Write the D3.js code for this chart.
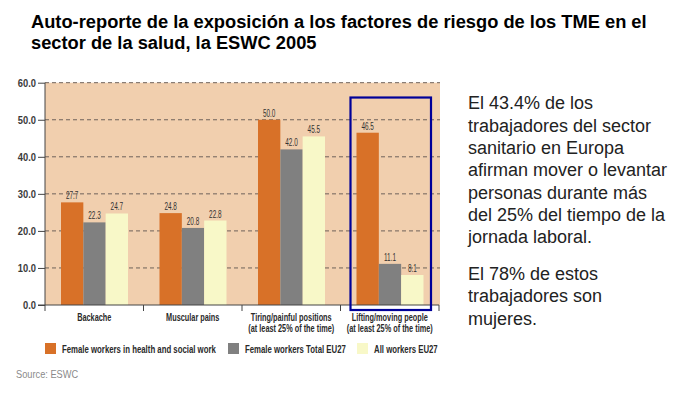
<!DOCTYPE html>
<html>
<head>
<meta charset="utf-8">
<script src="https://cdn.jsdelivr.net/npm/d3@7"></script>
<style>
  body { margin: 0; background: #fff; }
  svg { display: block; }
  text { font-family: "Liberation Sans", Arial, sans-serif; }
</style>
</head>
<body>
<svg id="chart" width="685" height="394"></svg>
<script>

// data
var categories = ["Backache", "Muscular pains", "Tiring/painful positions", "Lifting/moving people"];
var subLabels = ["", "", "(at least 25% of the time)", "(at least 25% of the time)"];
var seriesNames = ["Female workers in health and social work", "Female workers Total EU27", "All workers EU27"];
var femaleHealth = [27.7, 24.8, 50.0, 46.5];
var femaleTotal = [22.3, 20.8, 42.0, 11.1];
var allWorkers = [24.7, 22.8, 45.5, 8.1];
var yTicks = [0, 10, 20, 30, 40, 50, 60];
var colors = ["#d87128", "#808080", "#f8f8c8"];

var titleLines = ["Auto-reporte de la exposición a los factores de riesgo de los TME en el",
                  "sector de la salud, la ESWC 2005"];
var noteLines = ["El 43.4% de los", "trabajadores del sector", "sanitario en Europa",
                 "afirman mover o levantar", "personas durante más", "del 25% del tiempo de la",
                 "jornada laboral."];
var noteLines2 = ["El 78% de estos", "trabajadores son", "mujeres."];

var series = [femaleHealth, femaleTotal, allWorkers];

var svg = d3.select("#chart");

var plotL = 45, plotR = 440, plotB = 305, plotT = 82.7;

var x = d3.scaleBand()
    .domain(categories)
    .range([plotL, plotL + 4 * 98.5]);

var x1 = d3.scaleBand()
    .domain(d3.range(series.length))
    .range([0, 67]);

var y = d3.scaleLinear()
    .domain([0, 60])
    .range([plotB, plotT]);

// the source chart uses a condensed face, squeeze the text to match
function condense(sel, k) {
  sel.each(function() {
    var w = this.getComputedTextLength();
    if (w > 0) d3.select(this).attr("textLength", w * k).attr("lengthAdjust", "spacingAndGlyphs");
  });
}

// title
svg.append("g")
  .selectAll("text")
    .data(titleLines)
  .enter().append("text")
    .attr("x", 31)
    .attr("y", function(d, i) { return 27.5 + i * 21; })
    .style("font-weight", "bold")
    .style("font-size", "18.3px")
    .attr("fill", "#000")
    .text(function(d) { return d; });

// plot background
svg.append("rect")
    .attr("x", plotL)
    .attr("y", y(60))
    .attr("width", plotR - plotL)
    .attr("height", y(0) - y(60))
    .attr("fill", "#f1cfae");

// dashed grid
svg.append("g")
  .selectAll("line")
    .data(yTicks.filter(function(d) { return d > 0; }))
  .enter().append("line")
    .attr("x1", plotL)
    .attr("x2", plotR)
    .attr("y1", function(d) { return y(d); })
    .attr("y2", function(d) { return y(d); })
    .attr("stroke", "#6e625a")
    .attr("stroke-width", 1)
    .attr("stroke-dasharray", "4,3");

// bars
series.forEach(function(vals, s) {
  svg.append("g")
    .selectAll("rect")
      .data(vals)
    .enter().append("rect")
      .attr("x", function(d, i) { return x(categories[i]) + 16 + x1(s); })
      .attr("y", function(d) { return y(d); })
      .attr("width", x1.bandwidth())
      .attr("height", function(d) { return y(0) - y(d); })
      .attr("fill", colors[s]);

  svg.append("g")
    .selectAll("text")
      .data(vals)
    .enter().append("text")
      .attr("x", function(d, i) { return x(categories[i]) + 16 + x1(s) + x1.bandwidth() / 2; })
      .attr("y", function(d) { return y(d) - 3; })
      .attr("text-anchor", "middle")
      .style("font-size", "10px")
      .attr("fill", "#333")
      .text(function(d) { return d.toFixed(1); })
      .call(condense, 0.64);
});

// y axis
var yAxis = svg.append("g")
    .attr("transform", "translate(" + plotL + ",0)")
    .call(d3.axisLeft(y).tickValues(yTicks).tickSize(7).tickFormat(d3.format(".1f")));
yAxis.select(".domain").attr("stroke", "#444").attr("d", "M0," + y(60) + "V" + y(0));
yAxis.selectAll(".tick line").attr("stroke", "#444");
yAxis.selectAll("text")
    .attr("x", -9)
    .style("font-family", "Liberation Sans, Arial, sans-serif")
    .style("font-size", "11px")
    .style("font-weight", "bold")
    .attr("fill", "#3a3a3a")
    .call(condense, 0.85);

// x axis
var xAxis = svg.append("g")
    .attr("transform", "translate(0," + plotB + ")");
xAxis.append("line")
    .attr("x1", plotL - 7)
    .attr("x2", x.range()[1])
    .attr("stroke", "#444");
xAxis.selectAll(".xt")
    .data(d3.range(categories.length + 1))
  .enter().append("line")
    .attr("x1", function(d) { return plotL + d * x.step(); })
    .attr("x2", function(d) { return plotL + d * x.step(); })
    .attr("y1", 0)
    .attr("y2", 6)
    .attr("stroke", "#444");

var catText = svg.append("g")
  .selectAll("text")
    .data(categories)
  .enter().append("text")
    .attr("x", function(d) { return x(d) + x.bandwidth() / 2; })
    .attr("y", 320.5)
    .attr("text-anchor", "middle")
    .style("font-size", "11.2px")
    .style("font-weight", "bold")
    .attr("fill", "#2a2a2a");
catText.append("tspan")
    .text(function(d) { return d; });
catText.append("tspan")
    .attr("x", function(d) { return x(d) + x.bandwidth() / 2; })
    .attr("dy", 11)
    .text(function(d, i) { return subLabels[i]; });
catText.selectAll("tspan").call(condense, 0.655);

// highlight box on last category
var lastCat = categories[categories.length - 1];
svg.append("rect")
    .attr("x", x(lastCat) + 10)
    .attr("y", y(56))
    .attr("width", x.bandwidth() - 18)
    .attr("height", y(0) + 5 - y(56))
    .attr("fill", "none")
    .attr("stroke", "#000099")
    .attr("stroke-width", 2.2);

// legend
var legendX = [45, 228, 357];
var legend = svg.append("g")
  .selectAll("g")
    .data(seriesNames)
  .enter().append("g")
    .attr("transform", function(d, i) { return "translate(" + legendX[i] + ",343)"; });
legend.append("rect")
    .attr("width", 11)
    .attr("height", 11)
    .attr("fill", function(d, i) { return colors[i]; });
legend.append("text")
    .attr("x", 17)
    .attr("y", 9.7)
    .style("font-size", "11.3px")
    .style("font-weight", "bold")
    .attr("fill", "#2a2a2a")
    .text(function(d) { return d; })
    .call(condense, 0.69);

// source
svg.append("text")
    .attr("x", 16)
    .attr("y", 378)
    .style("font-size", "10.5px")
    .attr("fill", "#8a8a8a")
    .text("Source: ESWC")
    .call(condense, 0.88);

// side note
function note(lines, y0) {
  svg.append("g")
    .selectAll("text")
      .data(lines)
    .enter().append("text")
      .attr("x", 468)
      .attr("y", function(d, i) { return y0 + i * 22.3; })
      .style("font-size", "18px")
      .attr("fill", "#222")
      .text(function(d) { return d; });
}
note(noteLines, 109.3);
note(noteLines2, 280);

</script>
</body>
</html>
